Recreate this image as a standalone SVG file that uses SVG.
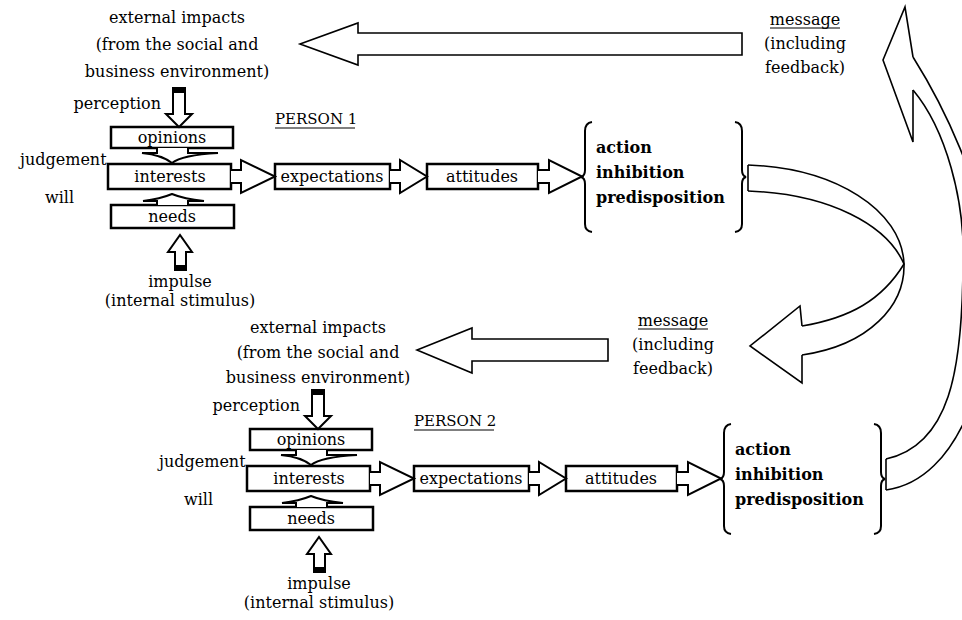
<svg xmlns="http://www.w3.org/2000/svg" width="962" height="620" viewBox="0 0 962 620">
<style>
text{font-family:"DejaVu Serif","Liberation Serif",serif;font-size:16px;fill:#000}
.c{text-anchor:middle}
.e{text-anchor:end}
.b{font-weight:bold}
.hd{font-size:15px}
.box{fill:#fff;stroke:#000;stroke-width:2.5}
.ar{fill:#fff;stroke:#000;stroke-width:2;stroke-linejoin:miter}
.big{fill:#fff;stroke:#000;stroke-width:1.6;stroke-linejoin:miter}
.ln{fill:none;stroke:#000;stroke-width:1.6}
.br{fill:none;stroke:#000;stroke-width:2}
.ul{stroke:#000;stroke-width:1.2}
</style>
<rect width="962" height="620" fill="#fff"/>

<!-- PERSON 1 nodes -->
<g id="person1">
  <g id="p1-external"><text class="c" x="177" y="23">external impacts</text><text class="c" x="177" y="50">(from the social and</text><text class="c" x="177" y="77">business environment)</text></g>
  <g id="p1-perception-label"><text class="e" x="161" y="109">perception</text></g>
  <g id="p1-title"><text class="hd" x="275" y="124">PERSON 1</text><line class="ul" x1="275" y1="128" x2="355" y2="128"/></g>
  <g id="p1-opinions"><rect class="box" x="111" y="127" width="122" height="21"/><text class="c" x="172" y="143">opinions</text></g>
  <g id="p1-judgement-label"><text x="20" y="165">judgement</text></g>
  <g id="p1-interests"><rect class="box" x="108" y="164" width="123" height="25"/><text class="c" x="170" y="182">interests</text></g>
  <g id="p1-will-label"><text x="45" y="203">will</text></g>
  <g id="p1-needs"><rect class="box" x="111" y="205" width="123" height="23"/><text class="c" x="172" y="222">needs</text></g>
  <g id="p1-impulse"><text class="c" x="180" y="287">impulse</text><text class="c" x="180" y="306">(internal stimulus)</text></g>
  <g id="p1-expectations"><rect class="box" x="275" y="164" width="115" height="25"/><text class="c" x="332" y="182">expectations</text></g>
  <g id="p1-attitudes"><rect class="box" x="427" y="164" width="111" height="25"/><text class="c" x="482" y="182">attitudes</text></g>
  <g id="p1-outcome">
    <path class="br" d="M592,122 Q585,123 585,131 L585,170 Q585,176 581,177 Q585,178 585,184 L585,224 Q585,231 592,232"/>
    <path class="br" d="M735,122 Q742,123 742,131 L742,170 Q742,176 746,177 Q742,178 742,184 L742,224 Q742,231 735,232"/>
    <text class="b" x="596" y="153">action</text><text class="b" x="596" y="178">inhibition</text><text class="b" x="596" y="203">predisposition</text>
  </g>
</g>

<!-- PERSON 2 nodes -->
<g id="person2" transform="translate(139,302)">
  <g id="p2-external"><text class="c" x="179" y="31">external impacts</text><text class="c" x="179" y="56">(from the social and</text><text class="c" x="179" y="81">business environment)</text></g>
  <g id="p2-perception-label"><text class="e" x="161" y="109">perception</text></g>
  <g id="p2-title"><text class="hd" x="275" y="124">PERSON 2</text><line class="ul" x1="275" y1="128" x2="355" y2="128"/></g>
  <g id="p2-opinions"><rect class="box" x="111" y="127" width="122" height="21"/><text class="c" x="172" y="143">opinions</text></g>
  <g id="p2-judgement-label"><text x="20" y="165">judgement</text></g>
  <g id="p2-interests"><rect class="box" x="108" y="164" width="123" height="25"/><text class="c" x="170" y="182">interests</text></g>
  <g id="p2-will-label"><text x="45" y="203">will</text></g>
  <g id="p2-needs"><rect class="box" x="111" y="205" width="123" height="23"/><text class="c" x="172" y="222">needs</text></g>
  <g id="p2-impulse"><text class="c" x="180" y="287">impulse</text><text class="c" x="180" y="306">(internal stimulus)</text></g>
  <g id="p2-expectations"><rect class="box" x="275" y="164" width="115" height="25"/><text class="c" x="332" y="182">expectations</text></g>
  <g id="p2-attitudes"><rect class="box" x="427" y="164" width="111" height="25"/><text class="c" x="482" y="182">attitudes</text></g>
  <g id="p2-outcome">
    <path class="br" d="M592,122 Q585,123 585,131 L585,170 Q585,176 581,177 Q585,178 585,184 L585,224 Q585,231 592,232"/>
    <path class="br" d="M735,122 Q742,123 742,131 L742,170 Q742,176 746,177 Q742,178 742,184 L742,224 Q742,231 735,232"/>
    <text class="b" x="596" y="153">action</text><text class="b" x="596" y="178">inhibition</text><text class="b" x="596" y="203">predisposition</text>
  </g>
</g>

<!-- message labels -->
<g id="message1"><text class="c" x="805" y="25">message</text><line class="ul" x1="770" y1="28" x2="840" y2="28"/><text class="c" x="805" y="49">(including</text><text class="c" x="805" y="73">feedback)</text></g>
<g id="message2"><text class="c" x="673" y="326">message</text><line class="ul" x1="638" y1="329" x2="708" y2="329"/><text class="c" x="673" y="350">(including</text><text class="c" x="673" y="374">feedback)</text></g>

<!-- connectors -->
<g id="connectors">
  <g id="p1-connectors">
    <path class="ar" d="M173,88 V114 H166 L179,127 L192,114 H185 V88 Z"/><rect x="173" y="88" width="12" height="5"/>
    <path class="ar" d="M157,148 V153 H142 Q162,155 172,163 Q182,155 218,153 H188 V148"/>
    <path class="ar" d="M157,205 V201 H143 Q160,199 172,194 Q184,199 204,201 H188 V205"/>
    <path class="ar" d="M175,270 V252 H168 L180,235 L192,252 H186 V270 Z"/><rect x="175" y="265" width="11" height="5"/>
    <path class="ar" d="M231,170 H241 V160 L275,176.5 L241,193 V183 H231"/>
    <path class="ar" d="M390,170 H400 V160 L427,176.5 L400,193 V183 H390"/>
    <path class="ar" d="M538,170 H549 V160 L582,176.5 L549,193 V183 H538"/>
  </g>
  <g id="p2-connectors" transform="translate(139,302)">
    <path class="ar" d="M173,88 V114 H166 L179,127 L192,114 H185 V88 Z"/><rect x="173" y="88" width="12" height="5"/>
    <path class="ar" d="M157,148 V153 H142 Q162,155 172,163 Q182,155 218,153 H188 V148"/>
    <path class="ar" d="M157,205 V201 H143 Q160,199 172,194 Q184,199 204,201 H188 V205"/>
    <path class="ar" d="M175,270 V252 H168 L180,235 L192,252 H186 V270 Z"/><rect x="175" y="265" width="11" height="5"/>
    <path class="ar" d="M231,170 H241 V160 L275,176.5 L241,193 V183 H231"/>
    <path class="ar" d="M390,170 H400 V160 L427,176.5 L400,193 V183 H390"/>
    <path class="ar" d="M538,170 H549 V160 L582,176.5 L549,193 V183 H538"/>
  </g>
  <!-- message arrows toward external impacts -->
  <path id="msg-arrow-1" class="big" d="M742,33 H358 V23 L300,44 L358,65 V55 H742 Z"/>
  <path id="msg-arrow-2" class="big" d="M608,339 H472 V328 L417,350 L472,373 V361 H608 Z"/>
  <!-- curved arrow from person 1 to person 2 -->
  <g id="curve-p1-p2">
    <path class="ln" d="M748,165 C835,168 902,210 904,264 C905,305 870,345 802,355"/>
    <path class="ln" d="M748,191 C830,194 887,225 904,264 C882,300 850,318 802,326"/>
    <path class="ln" d="M748,165 V191"/>
    <path class="ln" d="M802,326 L800,306 L750,346 L802,383 L802,355"/>
  </g>
  <!-- curved arrow from person 2 back to top -->
  <g id="curve-p2-p1">
    <path class="ln" d="M913,57 C940,100 985,185 992,275 C994,370 960,480 886,490"/>
    <path class="ln" d="M913,90 C945,128 966,200 963,268 C962,370 950,445 886,459"/>
    <path class="ln" d="M886,459 V490"/>
    <path class="ln" d="M913,57 L905,7 L883,60 L913,142 L913,90"/>
  </g>
</g>
</svg>
